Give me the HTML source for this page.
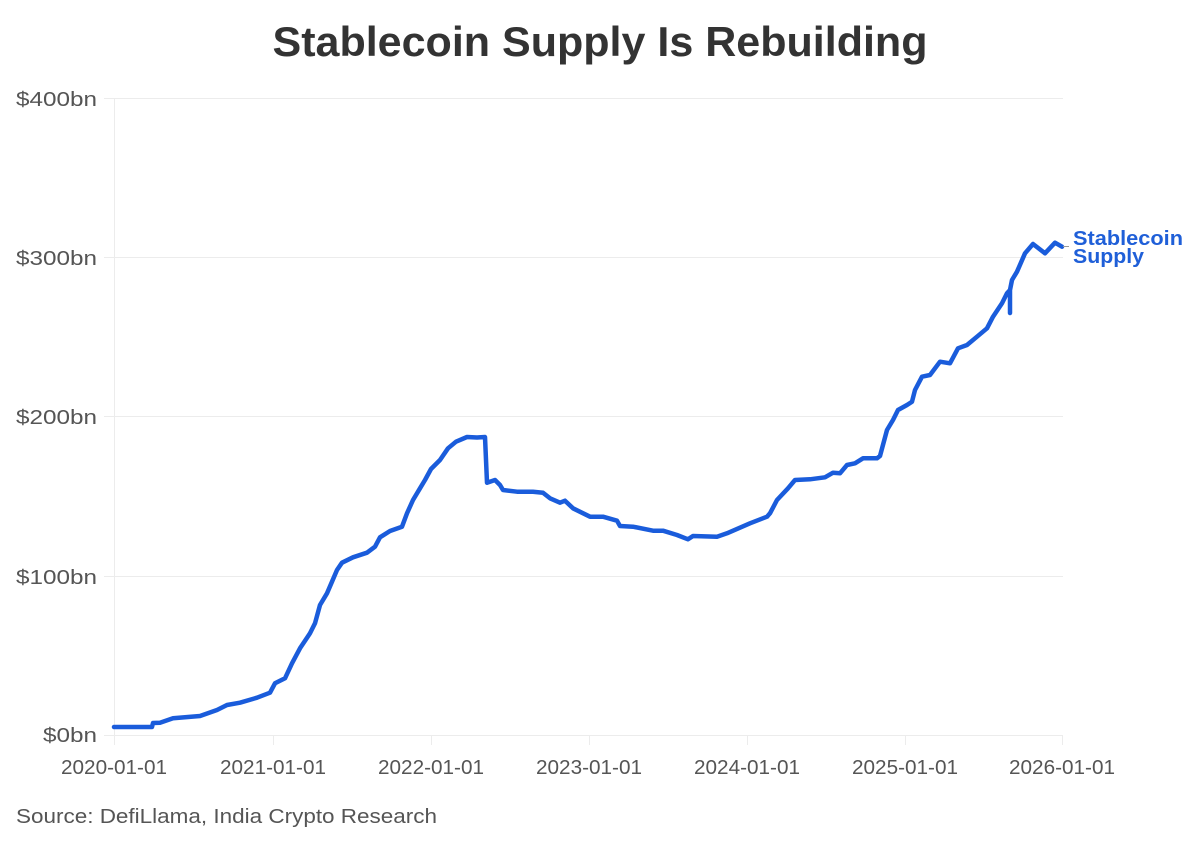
<!DOCTYPE html>
<html><head><meta charset="utf-8"><style>
html,body{margin:0;padding:0;background:#fff;}
svg{display:block;}
</style></head><body>
<svg width="1200" height="845" viewBox="0 0 1200 845" xmlns="http://www.w3.org/2000/svg" font-family="'Liberation Sans', sans-serif">
<rect width="1200" height="845" fill="#fff"/>
<text x="600" y="56" text-anchor="middle" font-size="42" font-weight="bold" fill="#333" textLength="655" lengthAdjust="spacingAndGlyphs">Stablecoin Supply Is Rebuilding</text>
<g stroke="#ececec" stroke-width="1">
<line x1="104" y1="98.5" x2="1063" y2="98.5"/>
<line x1="104" y1="257.5" x2="1063" y2="257.5"/>
<line x1="104" y1="416.5" x2="1063" y2="416.5"/>
<line x1="104" y1="576.5" x2="1063" y2="576.5"/>
<line x1="104" y1="735.5" x2="1063" y2="735.5"/>
<line x1="114.5" y1="98" x2="114.5" y2="745"/>
<line x1="273.5" y1="735" x2="273.5" y2="745"/>
<line x1="431.5" y1="735" x2="431.5" y2="745"/>
<line x1="589.5" y1="735" x2="589.5" y2="745"/>
<line x1="747.5" y1="735" x2="747.5" y2="745"/>
<line x1="905.5" y1="735" x2="905.5" y2="745"/>
<line x1="1062.5" y1="735" x2="1062.5" y2="745"/>
</g>
<g font-size="20" fill="#555" text-anchor="end">
<text x="97" y="106" textLength="81" lengthAdjust="spacingAndGlyphs">$400bn</text>
<text x="97" y="265" textLength="81" lengthAdjust="spacingAndGlyphs">$300bn</text>
<text x="97" y="424" textLength="81" lengthAdjust="spacingAndGlyphs">$200bn</text>
<text x="97" y="584" textLength="81" lengthAdjust="spacingAndGlyphs">$100bn</text>
<text x="97" y="742" textLength="54" lengthAdjust="spacingAndGlyphs">$0bn</text>
</g>
<g font-size="20" fill="#555" text-anchor="middle">
<text x="114" y="774" textLength="106" lengthAdjust="spacingAndGlyphs">2020-01-01</text>
<text x="273" y="774" textLength="106" lengthAdjust="spacingAndGlyphs">2021-01-01</text>
<text x="431" y="774" textLength="106" lengthAdjust="spacingAndGlyphs">2022-01-01</text>
<text x="589" y="774" textLength="106" lengthAdjust="spacingAndGlyphs">2023-01-01</text>
<text x="747" y="774" textLength="106" lengthAdjust="spacingAndGlyphs">2024-01-01</text>
<text x="905" y="774" textLength="106" lengthAdjust="spacingAndGlyphs">2025-01-01</text>
<text x="1062" y="774" textLength="106" lengthAdjust="spacingAndGlyphs">2026-01-01</text>
</g>
<text x="16" y="823" font-size="20" fill="#555" textLength="421" lengthAdjust="spacingAndGlyphs">Source: DefiLlama, India Crypto Research</text>
<path fill="none" stroke="#1a5cdb" stroke-width="4.5" stroke-linejoin="round" stroke-linecap="round" d="M114,727 L152,727 L153,723 L160,722.7 L173,718.3 L200,716 L217,710 L227,705 L240,702.7 L257,697.7 L270,692.7 L275,683.3 L285,678.3 L292,663.3 L300,648.3 L310,633.3 L315,623.3 L320,605 L327,593.3 L332,581.7 L337,570 L342,562.7 L353,557.3 L367,552.7 L375,546.7 L380,537.3 L390,531 L402,526.7 L407,513.3 L413,500 L420,488.3 L425,480 L431,469 L440,460 L448,448.3 L456,441.7 L467,437 L477,437.5 L485,437 L487,482.7 L495,480 L500,485 L503,490 L517,491.7 L533,491.7 L543,492.7 L550,498.3 L560,502.7 L565,500.7 L573,508.3 L590,516.7 L603,516.7 L617,520.7 L620,526 L633,526.7 L653,530.7 L663,530.7 L677,535 L688,539.3 L693,536 L717,536.7 L727,533.3 L750,523.3 L767,516.7 L770,513.3 L777,500 L788,488.3 L795,480 L810,479.3 L825,477.3 L833,472.7 L840,473.3 L847,465 L855,463.3 L863,458.3 L877,458.3 L880,456 L887,430 L893,420 L898,410 L907,405 L912,401.7 L915,390 L922,376.7 L930,375 L940,361.7 L950,363.3 L958,348.3 L967,345 L977,336.7 L987,328.3 L993,316.7 L1002,303.3 L1007,293.3 L1010,290 L1010,313 L1010,290 L1012,280 L1017,271.7 L1025,253.3 L1033,244 L1045,253.3 L1055,242.7 L1062,246.7"/>
<line x1="1063" y1="246.5" x2="1069" y2="246.5" stroke="#999" stroke-width="1"/>
<g font-size="20" font-weight="bold" fill="#1f5fd8">
<text x="1073" y="245" textLength="110" lengthAdjust="spacingAndGlyphs">Stablecoin</text>
<text x="1073" y="263" textLength="71" lengthAdjust="spacingAndGlyphs">Supply</text>
</g>
</svg>
</body></html>
